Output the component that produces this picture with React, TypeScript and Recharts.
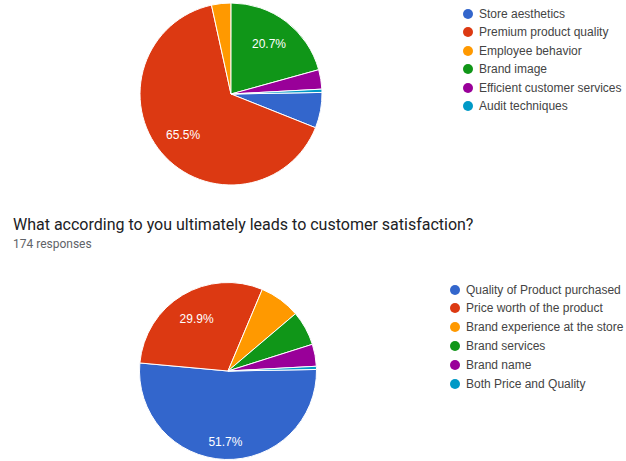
import { PieChart, Pie, Cell, Legend } from "recharts";

const storeFactors = [
  "Store aesthetics",
  "Premium product quality",
  "Employee behavior",
  "Brand image",
  "Efficient customer services",
  "Audit techniques",
];
const storeCounts = [11, 114, 6, 36, 6, 1];

const satisfactionFactors = [
  "Quality of Product purchased",
  "Price worth of the product",
  "Brand experience at the store",
  "Brand services",
  "Brand name",
  "Both Price and Quality",
];
const satisfactionCounts = [90, 52, 13, 11, 7, 1];

const sliceColors = ["#3366cc", "#dc3912", "#ff9900", "#109618", "#990099", "#0099c6"];

const RAD = Math.PI / 180;

function sliceLabel(props: any) {
  const { cx, cy, midAngle, outerRadius, percent } = props;
  if (percent < 0.1) return null;
  // google pushes the half-pie label a bit further out
  const f = percent > 0.5 && percent < 0.6 ? 0.8 : 0.69;
  const r = outerRadius * f;
  const x = cx + r * Math.cos(-midAngle * RAD);
  const y = cy + r * Math.sin(-midAngle * RAD);
  return (
    <text
      x={x}
      y={y}
      fill="#fff"
      textAnchor="middle"
      dominantBaseline="central"
      style={{ fontFamily: "Arial, 'Liberation Sans', sans-serif", fontSize: 12 }}
    >
      {(percent * 100).toFixed(1)}%
    </text>
  );
}

function legendRows(names: string[], dotX: number, firstY: number, step: number) {
  return (
    <div style={{ position: "relative", width: 626, height: 130 }}>
      {names.map((n, i) => (
        <div
          key={n}
          style={{
            position: "absolute",
            left: dotX - 5,
            top: firstY + i * step - 9,
            height: 18,
            display: "flex",
            alignItems: "center",
            whiteSpace: "nowrap",
            fontFamily: "Arial, 'Liberation Sans', sans-serif",
            fontSize: 12,
            color: "#444",
          }}
        >
          <span
            style={{
              display: "inline-block",
              width: 10,
              height: 10,
              borderRadius: 5,
              background: sliceColors[i],
              marginRight: 6,
            }}
          />
          {n}
        </div>
      ))}
    </div>
  );
}

export default function App() {
  const storeData = storeFactors.map((name, i) => ({ name, value: storeCounts[i] }));
  const satData = satisfactionFactors.map((name, i) => ({ name, value: satisfactionCounts[i] }));

  return (
    <div
      style={{
        position: "absolute",
        left: 0,
        top: 0,
        width: 626,
        height: 461,
        overflow: "hidden",
        background: "#fff",
      }}
    >
      <div style={{ position: "absolute", left: 0, top: 0 }}>
        <PieChart width={626} height={200} margin={{ top: 0, right: 0, bottom: 0, left: 0 }}>
          <Pie
            data={storeData}
            dataKey="value"
            nameKey="name"
            cx={231}
            cy={94}
            outerRadius={91}
            startAngle={1}
            endAngle={-359}
            stroke="#fff"
            strokeWidth={1}
            label={sliceLabel}
            labelLine={false}
            isAnimationActive={false}
          >
            {storeData.map((d, i) => (
              <Cell key={d.name} fill={sliceColors[i]} />
            ))}
          </Pie>
          <Legend
            layout="vertical"
            align="right"
            verticalAlign="top"
            wrapperStyle={{ left: 0, top: 0, width: 626 }}
            content={() => legendRows(storeFactors, 468, 13.5, 18.5)}
          />
        </PieChart>
      </div>

      <div
        style={{
          position: "absolute",
          left: 13,
          top: 214.5,
          fontFamily: "Roboto, sans-serif",
          fontSize: 16,
          lineHeight: "20px",
          color: "#202124",
          whiteSpace: "nowrap",
        }}
      >
        What according to you ultimately leads to customer satisfaction?
      </div>
      <div
        style={{
          position: "absolute",
          left: 13,
          top: 236,
          fontFamily: "Roboto, sans-serif",
          fontSize: 12,
          lineHeight: "16px",
          color: "#5f6368",
        }}
      >
        174 responses
      </div>

      <div style={{ position: "absolute", left: 0, top: 270 }}>
        <PieChart width={626} height={191} margin={{ top: 0, right: 0, bottom: 0, left: 0 }}>
          <Pie
            data={satData}
            dataKey="value"
            nameKey="name"
            cx={228}
            cy={101}
            outerRadius={88.5}
            startAngle={1}
            endAngle={-359}
            stroke="#fff"
            strokeWidth={1}
            label={sliceLabel}
            labelLine={false}
            isAnimationActive={false}
          >
            {satData.map((d, i) => (
              <Cell key={d.name} fill={sliceColors[i]} />
            ))}
          </Pie>
          <Legend
            layout="vertical"
            align="right"
            verticalAlign="top"
            wrapperStyle={{ left: 0, top: 0, width: 626 }}
            content={() => legendRows(satisfactionFactors, 455, 19.5, 18.8)}
          />
        </PieChart>
      </div>
    </div>
  );
}
